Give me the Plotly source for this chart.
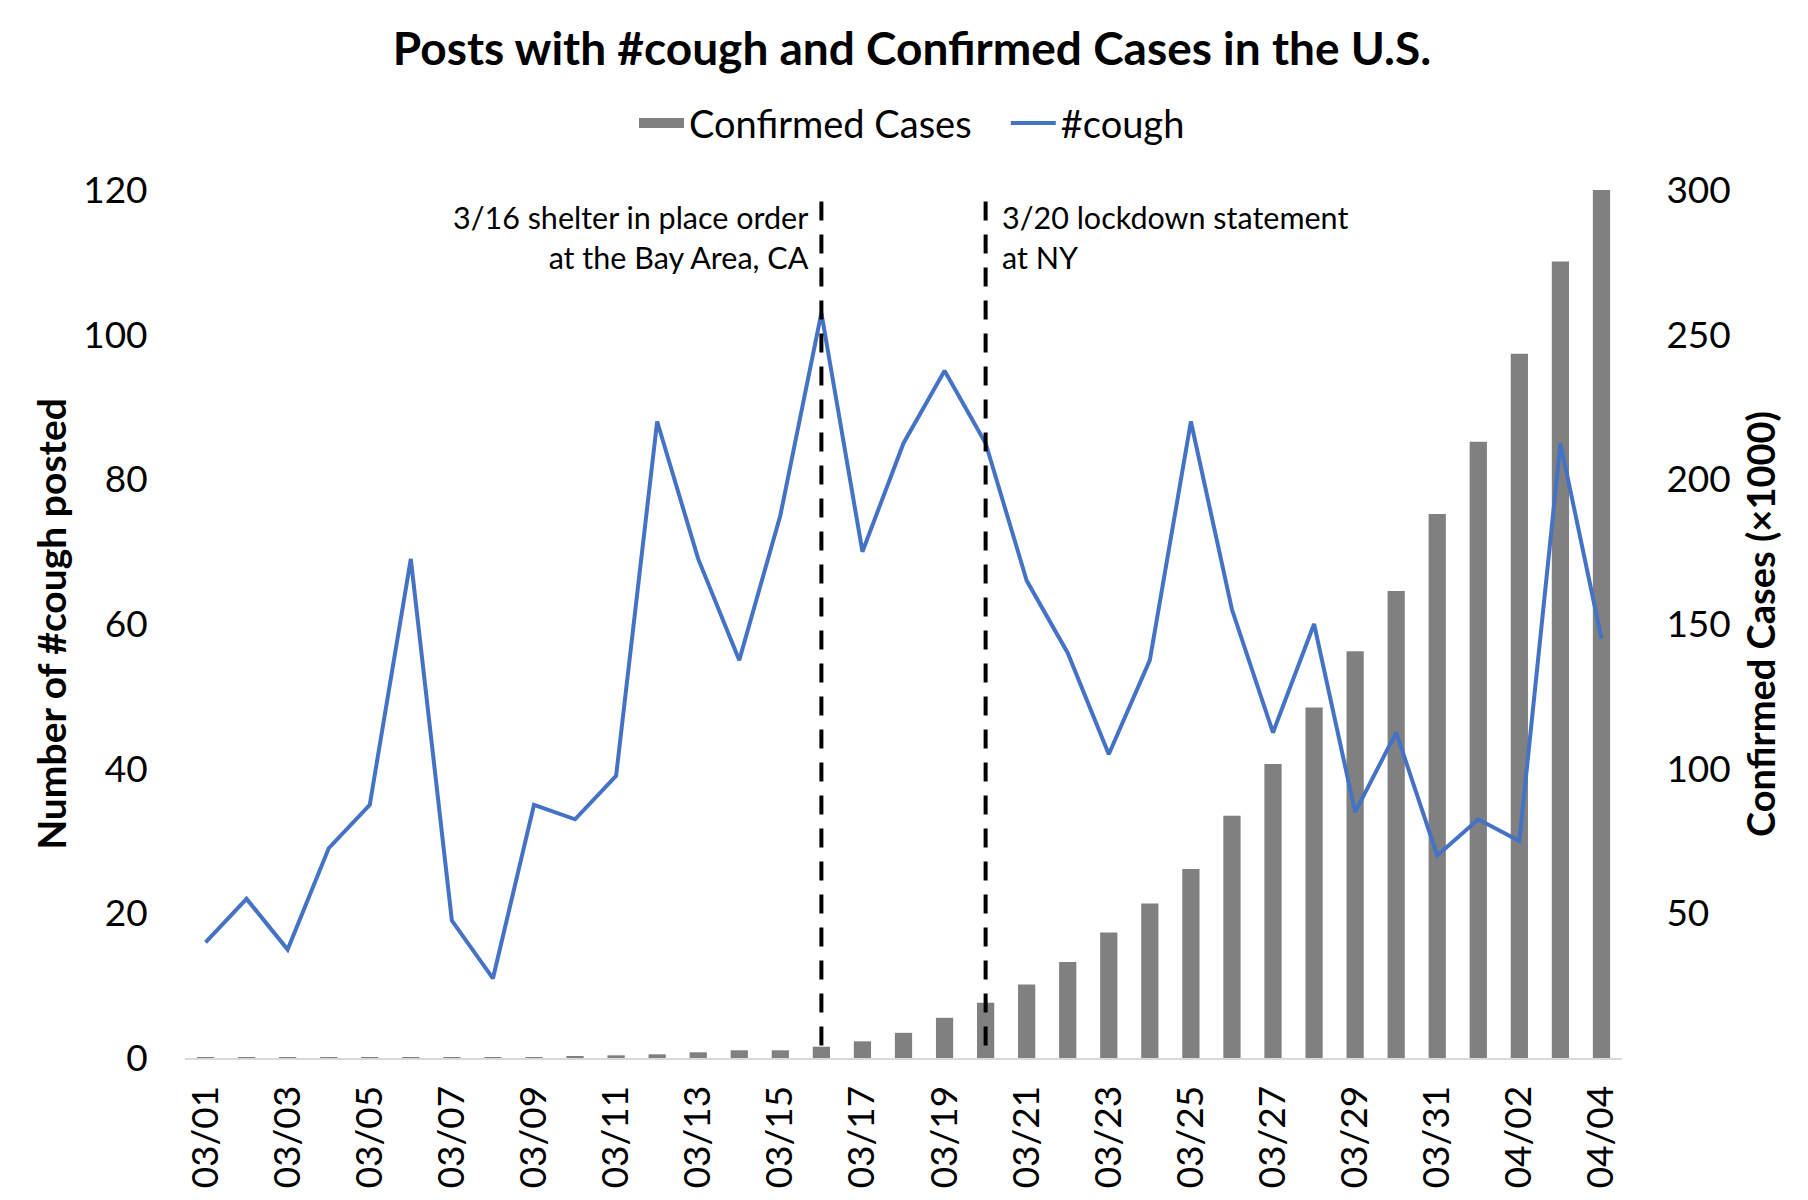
import plotly.graph_objects as go

dates = ["03/01","03/02","03/03","03/04","03/05","03/06","03/07","03/08","03/09","03/10",
         "03/11","03/12","03/13","03/14","03/15","03/16","03/17","03/18","03/19","03/20",
         "03/21","03/22","03/23","03/24","03/25","03/26","03/27","03/28","03/29","03/30",
         "03/31","04/01","04/02","04/03","04/04"]
cough_posts = [16, 22, 15, 29, 35, 69, 19, 11, 35, 33,
               39, 88, 69, 55, 75, 103, 70, 85, 95, 85,
               66, 56, 42, 55, 88, 62, 45, 60, 34, 45,
               28, 33, 30, 85, 58]
confirmed_k = [0.03, 0.05, 0.06, 0.08, 0.1, 0.13, 0.17, 0.2, 0.3, 0.45,
               0.93, 1.28, 1.97, 2.66, 2.66, 3.9, 5.76, 8.7, 13.9, 19.1,
               25.4, 33.2, 43.4, 53.4, 65.3, 83.7, 101.6, 121.1, 140.6, 161.4,
               188.0, 213.0, 243.4, 275.3, 300.0]
tick_labels = dates[::2]
left_ticks = [0, 20, 40, 60, 80, 100, 120]
right_ticks = [50, 100, 150, 200, 250, 300]
event_dates = ["03/16", "03/20"]
event_texts = ["3/16 shelter in place order<br>at the Bay Area, CA",
               "3/20 lockdown statement<br>at NY"]

FONT = "Lato"
BAR_COLOR = "#808080"
LINE_COLOR = "#4472C4"
NBSP = "\u00a0"

fig = go.Figure()
fig.add_trace(go.Bar(x=dates, y=confirmed_k, name="Confirmed Cases",
                     marker=dict(color=BAR_COLOR, line=dict(width=0)),
                     yaxis="y", showlegend=False, legendgroup="cases"))
# legend entry for the bars (wide rectangle key, as in the original)
fig.add_trace(go.Scatter(x=[dates[0]], y=[None], name="Confirmed Cases" + NBSP * 3,
                         mode="lines",
                         line=dict(color=BAR_COLOR, width=22),
                         yaxis="y", legendgroup="cases", hoverinfo="skip"))
fig.add_trace(go.Scatter(x=dates, y=cough_posts, name="#cough", mode="lines",
                         line=dict(color=LINE_COLOR, width=4),
                         yaxis="y2"))

for d in event_dates:
    fig.add_shape(type="line", xref="x", yref="y2", x0=d, x1=d, y0=118.4, y1=0,
                  line=dict(color="black", width=4, dash="19px,14px"))

fig.add_annotation(x=event_dates[0], y=119.0, xref="x", yref="y2", text=event_texts[0],
                   showarrow=False, xanchor="right", yanchor="top", align="right",
                   xshift=-10, font=dict(family=FONT, size=30.5, color="black"))
fig.add_annotation(x=event_dates[1], y=119.0, xref="x", yref="y2", text=event_texts[1],
                   showarrow=False, xanchor="left", yanchor="top", align="left",
                   xshift=14, font=dict(family=FONT, size=30.5, color="black"))

fig.update_layout(
    width=1808, height=1200,
    margin=dict(l=177, r=194, t=182, b=150, autoexpand=False),
    paper_bgcolor="white", plot_bgcolor="white",
    font=dict(family=FONT, color="black"),
    title=dict(text="<b>Posts with #cough and Confirmed Cases in the U.S.</b>",
               x=0.5, xanchor="center", y=0.966, yanchor="middle",
               font=dict(family=FONT, size=46, color="black")),
    legend=dict(orientation="h", xref="container", yref="container",
                x=0.5, xanchor="center", y=0.904, yanchor="middle",
                font=dict(family=FONT, size=38, color="black"),
                itemwidth=45, traceorder="normal"),
    bargap=0.58,
    showlegend=True,
    xaxis=dict(type="category", categoryorder="array", categoryarray=dates,
               tickmode="array", tickvals=tick_labels, ticktext=tick_labels,
               tickangle=-90, tickfont=dict(family=FONT, size=37, color="black"),
               ticks="outside", ticklen=11, tickcolor="rgba(0,0,0,0)",
               showline=True, linecolor="#d9d9d9", linewidth=2, automargin=False,
               showgrid=False, zeroline=False, range=[-0.5, 34.5]),
    yaxis=dict(side="right", range=[0, 300], tickmode="array", tickvals=right_ticks,
               showgrid=False, zeroline=False, showline=False, automargin=False,
               ticks="outside", ticklen=36, tickcolor="rgba(0,0,0,0)",
               tickfont=dict(family=FONT, size=37, color="black"),
               title=dict(text="<b>Confirmed Cases (×1000)</b>", standoff=18,
                          font=dict(family=FONT, size=38, color="black"))),
    yaxis2=dict(side="left", overlaying="y", range=[0, 120], tickmode="array",
                tickvals=left_ticks, automargin=False,
                showgrid=False, zeroline=False, showline=False,
                ticks="outside", ticklen=29, tickcolor="rgba(0,0,0,0)",
                tickfont=dict(family=FONT, size=37, color="black"),
                title=dict(text="<b>Number of #cough posted</b>", standoff=4,
                           font=dict(family=FONT, size=39, color="black"))),
)

fig.write_html("out.html")
